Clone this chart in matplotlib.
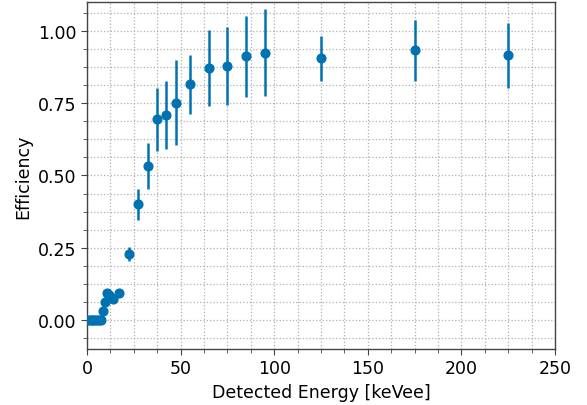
import matplotlib
matplotlib.use("Agg")
import matplotlib.pyplot as plt
from matplotlib.ticker import AutoMinorLocator, MultipleLocator
import numpy as np

# detected energy bins [keVee]
energy = [0.5, 1.5, 2.5, 3.5, 4.5, 5.5, 6.5, 7.5, 8.5, 9.8, 10.7, 12.0, 14.0, 17.0,
          22.5, 27.5, 32.5, 37.5, 42.5, 47.5, 55, 65, 75, 85, 95, 125, 175, 225]
eff = [0.0, 0.0, 0.0, 0.0, 0.0, 0.0, 0.0, 0.0, 0.03, 0.064, 0.093, 0.085, 0.072, 0.092,
       0.229, 0.40, 0.532, 0.694, 0.708, 0.751, 0.815, 0.871, 0.879, 0.912, 0.925,
       0.905, 0.933, 0.915]
eff_err = [0.0, 0.0, 0.0, 0.0, 0.0, 0.0, 0.0, 0.0, 0.004, 0.006, 0.008, 0.008, 0.008, 0.008,
           0.024, 0.053, 0.079, 0.108, 0.118, 0.147, 0.102, 0.132, 0.135, 0.14, 0.15,
           0.079, 0.105, 0.112]

fig = plt.figure(figsize=(5.87, 4.06), dpi=100)
ax = fig.add_axes([0.148, 0.138, 0.7975, 0.8546])

ax.errorbar(energy, eff, yerr=eff_err, fmt='o', color='#0072B2',
            markersize=6.3, elinewidth=1.8, capsize=0, zorder=3)

ax.set_xlim(0, 250)
ax.set_ylim(-0.1, 1.1)
ax.xaxis.set_major_locator(MultipleLocator(50))
ax.yaxis.set_major_locator(MultipleLocator(0.25))
ax.xaxis.set_minor_locator(AutoMinorLocator(4))
ax.yaxis.set_minor_locator(AutoMinorLocator(4))
ax.yaxis.set_major_formatter(matplotlib.ticker.FormatStrFormatter('%.2f'))

ax.grid(which='both', linestyle=':', color='#b0b0b0', linewidth=0.9)
ax.set_axisbelow(True)
for s in ax.spines.values():
    s.set_color('#444444')
    s.set_linewidth(1.0)
ax.tick_params(which='both', direction='out', color='#444444', labelsize=12.5)
ax.tick_params(which='major', length=4)
ax.tick_params(which='minor', length=3)

ax.set_xlabel('Detected Energy [keVee]', fontsize=12.5)
ax.set_ylabel('Efficiency', fontsize=12.5)

fig.savefig('out.png', dpi=100)
